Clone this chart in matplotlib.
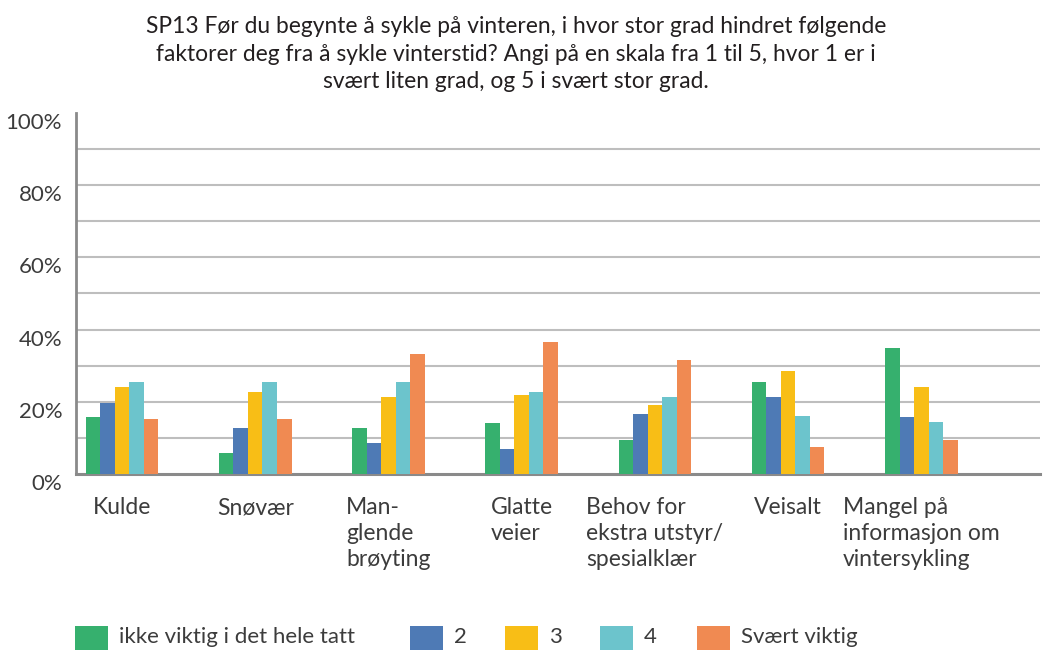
import numpy as np
import matplotlib
matplotlib.use("Agg")
import matplotlib.pyplot as plt
from matplotlib.patches import Rectangle

plt.rcParams['font.family'] = ['Lato', 'DejaVu Sans']

# Data (percent)
categories = ["Kulde", "Snøvær", "Man-\nglende\nbrøyting", "Glatte\nveier",
              "Behov for\nekstra utstyr/\nspesialklær", "Veisalt",
              "Mangel på\ninformasjon om\nvintersykling"]
series_names = ["ikke viktig i det hele tatt", "2", "3", "4", "Svært viktig"]
ikke_viktig = [15.7, 5.7, 12.7, 14.0, 9.4, 25.6, 35.0]
score_2 = [19.8, 12.7, 8.7, 6.9, 16.7, 21.3, 15.7]
score_3 = [24.1, 22.8, 21.3, 21.9, 19.2, 28.6, 24.1]
score_4 = [25.6, 25.6, 25.6, 22.8, 21.3, 16.1, 14.3]
svaert_viktig = [15.2, 15.2, 33.2, 36.6, 31.7, 7.5, 9.4]
y_ticks = [0, 20, 40, 60, 80, 100]

colors = ["#36B06E", "#4E7AB5", "#F8BE16", "#6CC4CC", "#F08A52"]
series = [ikke_viktig, score_2, score_3, score_4, svaert_viktig]
text_col = "#3C3C3C"

W, H = 1043, 650
fig = plt.figure(figsize=(W / 100, H / 100), dpi=100)
ax = fig.add_axes([0.0729, 0.2708, 0.9241, 0.5554])

x = np.arange(len(categories))
bw = 0.109
for i, (vals, col) in enumerate(zip(series, colors)):
    ax.bar(x + (i - 2) * bw, vals, width=bw, color=col, zorder=3)

ax.set_xlim(-0.345, 6.889)
ax.set_ylim(0, 100)

# gridlines every 10%
for g in range(10, 100, 10):
    ax.axhline(g, color="#BEBEBE", lw=1.5, zorder=1)

ax.set_yticks(y_ticks)
ax.set_yticklabels([f"{t}%" for t in y_ticks], fontsize=16, color=text_col,
                   va="top")
ax.tick_params(axis="y", length=0, pad=10)
ax.set_xticks([])

for s in ["top", "right"]:
    ax.spines[s].set_visible(False)
ax.spines["left"].set_color("#8A8A8A")
ax.spines["left"].set_linewidth(2)
ax.spines["bottom"].set_color("#8A8A8A")
ax.spines["bottom"].set_linewidth(2.2)

for xi, lab in zip(x, categories):
    ax.text(xi, -0.065, lab, transform=ax.get_xaxis_transform(), ha="center",
            va="top", multialignment="left", fontsize=16.5, color=text_col,
            linespacing=1.28)

fig.text(0.495, 0.975,
         "SP13 Før du begynte å sykle på vinteren, i hvor stor grad hindret følgende\n"
         "faktorer deg fra å sykle vinterstid? Angi på en skala fra 1 til 5, hvor 1 er i\n"
         "svært liten grad, og 5 i svært stor grad.",
         ha="center", va="top", fontsize=16.4, color="#231F20", linespacing=1.38)

# legend drawn by hand to follow the reference spacing (pixel positions)
legend_box_x = [75, 410, 505, 600, 697]
for bx, col, name in zip(legend_box_x, colors, series_names):
    fig.add_artist(Rectangle((bx / W, 1 - 650 / H), 33 / W, 24 / H,
                             transform=fig.transFigure, facecolor=col,
                             edgecolor="none"))
    fig.text((bx + 44) / W, 1 - 637 / H, name, ha="left", va="center",
             fontsize=16, color=text_col)

fig.savefig("out.png", dpi=100)
